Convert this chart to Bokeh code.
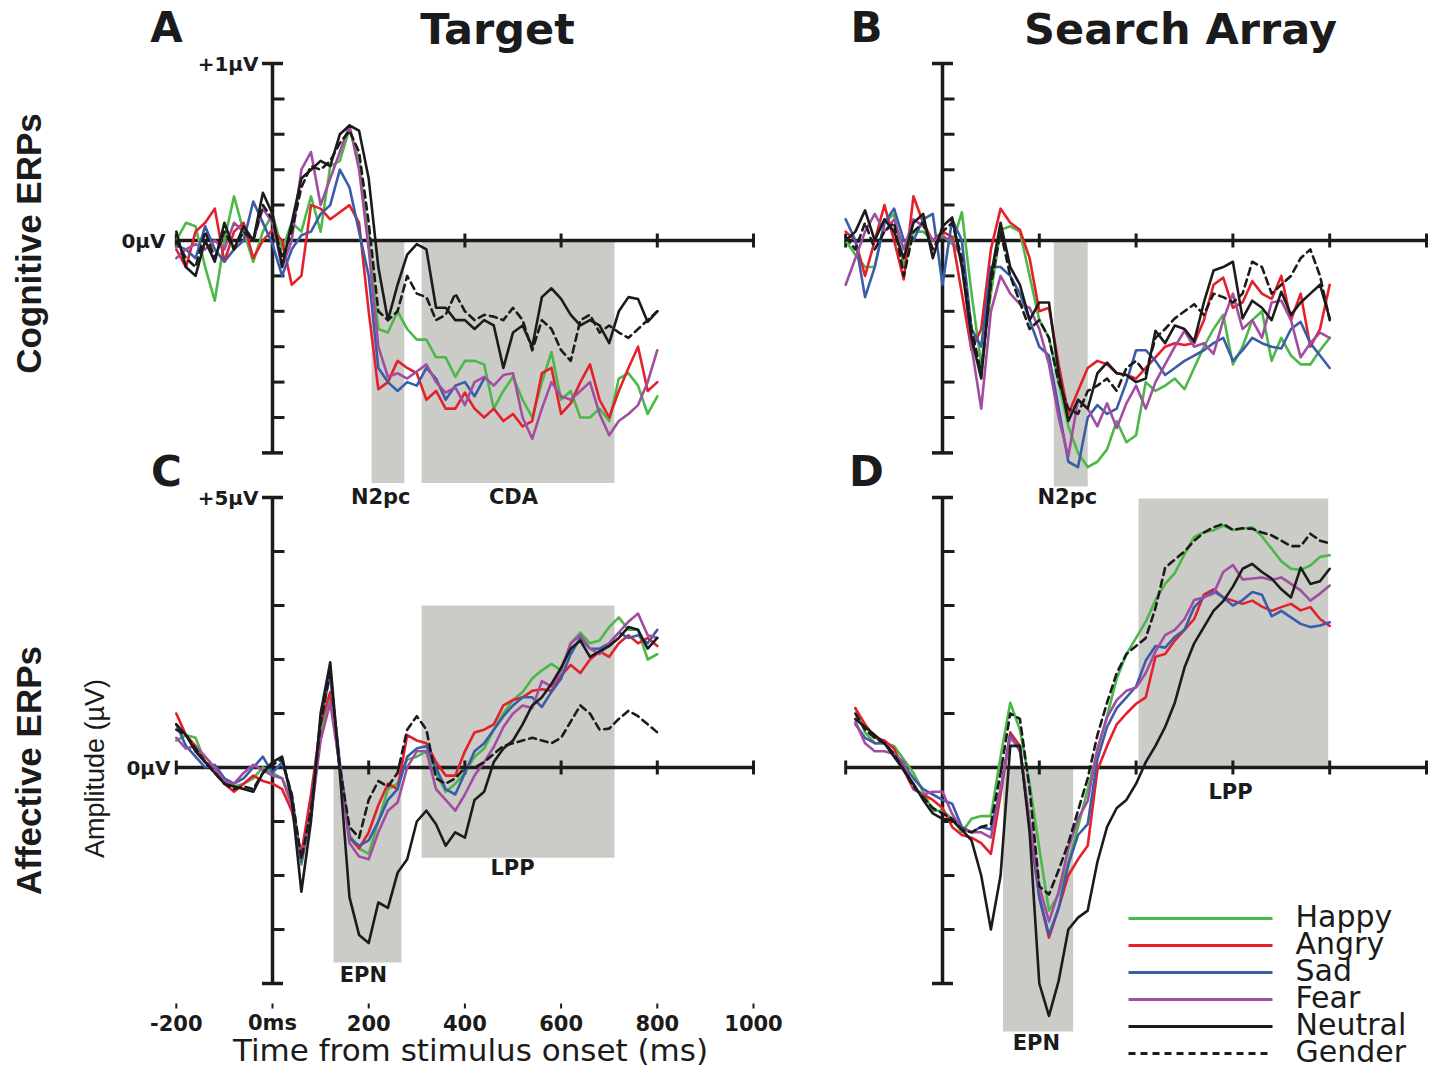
import numpy as np
from math import pi
from bokeh.plotting import figure
from bokeh.models import Range1d
from bokeh.core.properties import value
from bokeh.embed import file_html
from bokeh.resources import INLINE

nan = float("nan")

# shared time base of every waveform (ms)
time_ms = list(range(-200, 801, 20))

condition_names = ["Happy", "Angry", "Sad", "Fear", "Neutral", "Gender"]
condition_colors = ["#4cb848", "#e5202b", "#3b5ca8", "#a24ea0", "#1b1b1b", "#1b1b1b"]
condition_dashes = ["solid", "solid", "solid", "solid", "solid", "7 5"]

# ---- A: cognitive ERPs, target (µV) ----
a_happy = [0.0, 0.1, 0.08, -0.15, -0.34, 0.0, 0.25, 0.05, -0.12, 0.05,
           0.15, -0.05, 0.1, 0.05, 0.25, 0.05, 0.42, 0.45, 0.63, 0.45,
           0.0, -0.5, -0.52, -0.4, -0.5, -0.56, -0.56, -0.66, -0.66, -0.77,
           -0.68, -0.68, -0.7, -0.95, -0.85, -0.77, -0.9, -1.0, -0.8, -0.63,
           -0.9, -0.85, -1.0, -1.0, -0.95, -1.02, -0.78, -0.75, -0.82, -0.98,
           -0.88]
a_angry = [-0.05, -0.15, 0.05, 0.1, 0.18, -0.12, 0.05, 0.1, -0.1, 0.0,
           0.06, 0.0, -0.25, -0.2, 0.2, 0.18, 0.12, 0.16, 0.2, 0.1,
           -0.4, -0.84, -0.8, -0.68, -0.72, -0.75, -0.9, -0.85, -0.95, -0.95,
           -0.86, -0.95, -1.0, -0.95, -1.02, -0.98, -1.05, -1.02, -0.75, -0.72,
           -0.98, -0.92, -0.8, -0.7, -0.9, -1.0, -0.85, -0.72, -0.6, -0.85,
           -0.8]
a_sad = [-0.03, -0.05, -0.1, 0.08, -0.05, -0.12, -0.05, 0.0, 0.22, 0.1,
         -0.02, -0.2, -0.05, 0.03, 0.05, 0.15, 0.2, 0.4, 0.3, 0.05,
         -0.2, -0.72, -0.8, -0.85, -0.8, -0.82, -0.72, -0.78, -0.9, -0.82,
         -0.8, -0.88, -0.78, nan, nan, nan, nan, nan, nan, nan,
         nan, nan, nan, nan, nan, nan, nan, nan, nan, nan,
         nan]
a_fear = [-0.1, -0.05, -0.02, -0.05, 0.0, -0.05, 0.1, 0.05, 0.0, 0.18,
          0.1, -0.15, 0.0, 0.4, 0.5, 0.2, 0.35, 0.5, 0.65, 0.4,
          -0.05, -0.6, -0.77, -0.75, -0.78, -0.74, -0.7, -0.8, -0.86, -0.83,
          -0.93, -0.8, -0.77, -0.82, -0.76, -0.75, -1.0, -1.12, -0.95, -0.8,
          -0.88, -0.9, -0.85, -0.8, -0.98, -1.1, -1.02, -0.98, -0.93, -0.8,
          -0.62]
a_neutral = [0.05, -0.15, -0.2, 0.0, -0.12, 0.1, -0.05, 0.08, 0.0, 0.27,
             0.15, -0.15, 0.1, 0.35, 0.4, 0.45, 0.42, 0.6, 0.65, 0.62,
             0.35, -0.15, -0.45, -0.25, -0.08, -0.02, -0.05, -0.38, -0.38, -0.45,
             -0.45, -0.5, -0.45, -0.48, -0.72, -0.52, -0.48, -0.6, -0.32, -0.27,
             -0.33, -0.42, -0.48, -0.45, -0.48, -0.58, -0.4, -0.32, -0.33, -0.46,
             -0.4]
a_gender = [0.0, -0.1, -0.15, 0.05, -0.1, 0.05, -0.05, 0.05, 0.0, 0.2,
            0.12, -0.1, 0.05, 0.3, 0.42, 0.4, 0.45, 0.55, 0.62, 0.5,
            0.1, -0.4, -0.45, -0.4, -0.2, -0.3, -0.32, -0.45, -0.42, -0.3,
            -0.4, -0.45, -0.42, -0.43, -0.45, -0.38, -0.45, -0.62, -0.45, -0.5,
            -0.62, -0.68, -0.45, -0.42, -0.52, -0.48, -0.52, -0.55, -0.5, -0.45,
            -0.4]

# ---- B: cognitive ERPs, search array (µV) ----
b_happy = [0.0, -0.08, -0.15, -0.15, 0.1, 0.15, -0.15, 0.05, 0.05, 0.0,
           0.03, -0.02, 0.16, -0.3, -0.7, -0.3, 0.06, 0.08, 0.05, -0.2,
           -0.45, -0.55, -0.8, -1.05, -1.2, -1.28, -1.25, -1.18, -1.02, -1.14,
           -1.1, -0.8, -0.85, -0.82, -0.78, -0.84, -0.72, -0.6, -0.5, -0.42,
           -0.7, -0.6, -0.45, -0.4, -0.68, -0.55, -0.65, -0.7, -0.7, -0.62,
           -0.55]
b_angry = [0.05, 0.0, -0.2, 0.0, 0.2, 0.0, -0.22, 0.25, 0.1, 0.0,
           0.05, 0.02, -0.3, -0.62, -0.5, -0.05, 0.18, 0.1, 0.06, -0.1,
           -0.4, -0.38, -0.7, -0.98, -0.85, -0.72, -0.68, -0.7, -0.75, -0.76,
           -0.78, -0.72, -0.66, -0.6, -0.58, -0.59, -0.58, -0.45, -0.25, -0.21,
           -0.38, -0.35, -0.23, -0.3, -0.33, -0.2, -0.45, -0.3, -0.6, -0.5,
           -0.25]
b_sad = [0.12, 0.0, -0.32, -0.15, 0.1, 0.18, 0.0, 0.0, 0.12, 0.15,
         -0.25, 0.12, 0.0, -0.5, -0.6, -0.15, -0.15, -0.2, -0.3, -0.45,
         -0.6, -0.65, -0.95, -1.25, -1.28, -1.0, -0.93, -0.98, -0.95, -0.8,
         -0.62, -0.62, -0.68, -0.76, -0.72, -0.68, -0.65, -0.62, -0.58, -0.55,
         -0.68, -0.62, -0.55, -0.58, -0.6, -0.61, -0.5, -0.46, -0.58, -0.65,
         -0.72]
b_fear = [-0.25, -0.1, 0.05, 0.15, 0.05, 0.12, -0.05, 0.12, 0.08, 0.0,
          0.02, 0.0, -0.1, -0.6, -0.95, -0.4, -0.2, -0.3, -0.36, -0.38,
          -0.5, -0.7, -1.0, -1.22, -0.9, -0.95, -1.05, -0.92, -1.06, -0.92,
          -0.82, -0.95, -0.8, -0.7, -0.6, -0.51, -0.6, -0.58, -0.64, -0.45,
          -0.3, -0.5, -0.45, -0.55, -0.35, -0.34, -0.45, -0.66, -0.58, -0.52,
          -0.55]
b_neutral = [0.0, 0.05, 0.17, 0.0, 0.12, 0.05, -0.1, 0.1, 0.15, -0.1,
             0.08, 0.13, -0.15, -0.55, -0.78, -0.2, 0.1, -0.15, -0.25, -0.45,
             -0.35, -0.35, -0.75, -1.02, -0.9, -0.95, -0.75, -0.69, -0.75, -0.76,
             -0.8, -0.78, -0.51, -0.58, -0.48, -0.5, -0.57, -0.35, -0.17, -0.15,
             -0.12, -0.44, -0.34, -0.38, -0.45, -0.29, -0.42, -0.35, -0.3, -0.25,
             -0.44]
b_gender = [0.02, -0.05, 0.1, -0.05, 0.05, 0.1, -0.2, 0.05, 0.1, -0.05,
            0.05, 0.1, -0.1, -0.5, -0.75, -0.25, 0.05, -0.2, -0.35, -0.5,
            -0.45, -0.55, -0.8, -0.95, -0.98, -0.85, -0.82, -0.78, -0.85, -0.72,
            -0.68, -0.75, -0.55, -0.5, -0.44, -0.4, -0.36, -0.42, -0.3, -0.32,
            -0.35, -0.3, -0.12, -0.15, -0.3, -0.25, -0.2, -0.1, -0.05, -0.2,
            -0.45]

# ---- C: affective ERPs, target (µV) ----
c_happy = [0.5, 0.6, 0.55, 0.1, 0.0, -0.3, -0.35, -0.3, -0.2, 0.0,
           -0.1, -0.2, -0.6, -1.8, -0.9, 0.6, 1.35, 0.0, -1.25, -1.5,
           -1.6, -1.0, -0.4, -0.3, 0.15, 0.2, 0.3, -0.1, -0.45, -0.3,
           -0.1, 0.2, 0.35, 0.7, 1.0, 1.25, 1.4, 1.65, 1.8, 1.92,
           1.8, 2.3, 2.5, 2.3, 2.35, 2.6, 2.78, 2.55, 2.55, 2.0,
           2.1]
c_angry = [1.0, 0.6, 0.4, 0.1, 0.0, -0.3, -0.45, -0.3, -0.15, -0.25,
           -0.3, -0.4, -0.8, -1.6, -0.5, 0.8, 1.4, 0.0, -1.3, -1.5,
           -1.2, -0.7, -0.3, -0.4, 0.6, 0.5, 0.45, 0.1, -0.15, -0.15,
           0.3, 0.65, 0.7, 0.8, 1.15, 1.25, 1.3, 1.42, 1.45, 1.42,
           1.7, 1.9, 1.75, 2.0, 2.15, 2.05, 2.3, 2.45, 2.3, 2.4,
           2.25]
c_sad = [0.8, 0.4, 0.2, 0.0, 0.05, -0.2, -0.3, -0.2, 0.0, 0.2,
         -0.1, 0.1, -0.5, -1.75, -0.8, 0.9, 1.7, 0.1, -1.3, -1.45,
         -1.35, -1.0, -0.6, -0.4, 0.2, 0.35, 0.4, 0.0, -0.4, -0.5,
         -0.1, 0.3, 0.45, 0.7, 0.95, 1.15, 1.3, 1.3, 1.12, 1.4,
         1.65, 2.1, 2.4, 2.2, 2.2, 2.3, 2.5, 2.4, 2.45, 2.3,
         2.55]
c_fear = [0.55, 0.35, 0.4, 0.2, 0.0, -0.25, -0.3, -0.1, 0.05, -0.05,
          -0.15, -0.2, -0.7, -1.7, -0.9, 0.5, 1.2, 0.0, -1.4, -1.65,
          -1.7, -1.2, -0.8, -0.65, 0.0, 0.3, 0.3, -0.4, -0.6, -0.8,
          -0.5, -0.15, 0.1, 0.38, 0.75, 1.0, 1.15, 1.1, 1.6, 1.5,
          1.8, 2.3, 2.45, 2.2, 2.1, 2.3, 2.5, 2.7, 2.85, 2.45,
          2.4]
c_neutral = [0.8, 0.6, 0.3, 0.1, -0.1, -0.3, -0.35, -0.4, -0.45, -0.1,
             0.1, 0.2, -0.6, -2.3, -1.0, 1.0, 1.95, -0.1, -2.4, -3.1,
             -3.25, -2.5, -2.6, -1.95, -1.7, -1.0, -0.8, -1.05, -1.45, -1.2,
             -1.3, -0.6, -0.45, 0.1, 0.35, 0.5, 0.8, 1.15, 1.3, 1.55,
             1.85, 2.2, 2.35, 2.05, 2.15, 2.25, 2.4, 2.6, 2.55, 2.2,
             2.4]
c_gender = [0.7, 0.6, 0.35, 0.1, -0.1, -0.3, -0.4, -0.35, -0.4, -0.1,
            0.05, 0.15, -0.5, -1.7, -0.8, 0.8, 1.8, 0.0, -1.1, -1.3,
            -0.6, -0.25, -0.35, -0.1, 0.7, 0.95, 0.7, -0.2, -0.3, -0.2,
            0.0, 0.0, 0.1, 0.25, 0.4, 0.45, 0.5, 0.55, 0.5, 0.45,
            0.55, 0.85, 1.15, 1.0, 0.7, 0.72, 0.9, 1.05, 0.95, 0.8,
            0.65]

# ---- D: affective ERPs, search array (µV) ----
d_happy = [nan, 1.1, 0.65, 0.45, 0.45, 0.4, 0.15, -0.1, -0.45, -0.8,
           -0.8, -0.95, -1.2, -0.95, -0.9, -0.9, 0.2, 1.2, 0.7, -0.3,
           -1.5, -2.65, -2.35, -1.75, -1.1, -0.4, 0.3, 0.95, 1.65, 2.1,
           2.4, 2.7, 3.1, 3.4, 3.6, 3.95, 4.27, 4.36, 4.39, 4.48,
           4.4, 4.42, 4.45, 4.28, 4.05, 3.82, 3.68, 3.66, 3.74, 3.9,
           3.93]
d_angry = [nan, 1.1, 0.8, 0.55, 0.5, 0.35, -0.05, -0.4, -0.5, -0.6,
           -0.75, -1.1, -1.25, -1.3, -1.4, -1.6, -0.5, 0.65, 0.4, -1.1,
           -2.4, -3.15, -2.6, -2.0, -1.7, -1.45, -0.05, 0.4, 0.8, 1.0,
           1.18, 1.3, 2.05, 2.1, 2.35, 2.55, 2.75, 3.2, 3.3, 3.15,
           3.09, 3.03, 3.09, 2.98, 2.9, 2.97, 3.03, 2.91, 2.97, 2.75,
           2.62]
d_sad = [nan, 0.8, 0.55, 0.45, 0.45, 0.25, 0.05, -0.2, -0.4, -0.5,
         -0.6, -0.67, -1.1, -1.2, -1.1, -1.15, -0.4, 0.6, 0.3, -1.0,
         -2.4, -3.1, -2.6, -1.8, -1.25, -1.05, 0.15, 0.75, 1.1, 1.3,
         1.5, 1.98, 2.25, 2.22, 2.42, 2.55, 2.97, 3.15, 3.27, 3.15,
         3.0, 3.1, 3.25, 3.2, 2.8, 2.9, 2.78, 2.66, 2.6, 2.63,
         2.69]
d_fear = [nan, 0.85, 0.45, 0.3, 0.3, 0.25, 0.1, -0.4, -0.5, -0.45,
          -0.45, -0.86, -1.15, -1.2, -1.2, -1.3, -0.4, 0.55, 0.35, -1.0,
          -2.2, -2.85, -2.3, -1.5, -0.95, -0.62, 0.35, 0.93, 1.25, 1.42,
          1.48, 1.75, 2.15, 2.45, 2.55, 2.75, 3.1, 3.15, 3.22, 3.62,
          3.75, 3.48, 3.5, 3.52, 3.47, 3.52, 3.4, 3.28, 3.09, 3.22,
          3.37]
d_neutral = [nan, 0.9, 0.75, 0.6, 0.45, 0.2, -0.05, -0.3, -0.6, -0.85,
             -0.95, -0.98, -1.15, -1.35, -2.0, -3.0, -2.0, 0.4, 0.4, -1.2,
             -4.0, -4.6, -3.95, -3.0, -2.78, -2.65, -1.75, -1.1, -0.75, -0.6,
             -0.3, 0.1, 0.4, 0.75, 1.2, 1.85, 2.3, 2.6, 2.9, 3.08,
             3.35, 3.68, 3.77, 3.62, 3.5, 3.3, 3.15, 3.7, 3.4, 3.45,
             3.68]
d_gender = [nan, 1.0, 0.7, 0.55, 0.45, 0.25, -0.05, -0.35, -0.55, -0.75,
            -0.85, -0.95, -1.15, -1.2, -1.1, -1.05, -0.1, 1.0, 0.9, -0.4,
            -2.2, -2.35, -1.9, -1.4, -0.8, -0.2, 0.6, 1.2, 1.75, 2.1,
            2.25, 2.4, 2.95, 3.7, 3.85, 4.0, 4.2, 4.35, 4.45, 4.51,
            4.4, 4.43, 4.42, 4.35, 4.3, 4.2, 4.1, 4.1, 4.33, 4.2,
            4.15]

# analysis windows: (label, start ms, end ms, low µV, high µV)
windows_a = [("N2pc", 206, 274, -1.37, 0.0), ("CDA", 310, 711, -1.37, 0.0)]
windows_b = [("N2pc", 230, 300, -1.39, 0.0)]
windows_c = [("EPN", 127, 268, -3.61, 0.0), ("LPP", 310, 711, -1.67, 3.0)]
windows_d = [("EPN", 125, 270, -4.89, 0.0), ("LPP", 405, 797, 0.0, 4.98)]

# window labels: (text, ms, µV)
labels_a = [("N2pc", 225, -1.45), ("CDA", 501, -1.45)]
labels_b = [("N2pc", 258, -1.45)]
labels_c = [("EPN", 189, -3.85), ("LPP", 499, -1.87)]
labels_d = [("EPN", 194, -5.11), ("LPP", 595, -0.46)]

xtick_ms = [-200, 200, 400, 600, 800, 1000]
ytick_top = [-1.2, -1.0, -0.8, -0.6, -0.4, -0.2, 0.0, 0.2, 0.4, 0.6, 0.8, 1.0]
ytick_bottom = [-4, -3, -2, -1, 0, 1, 2, 3, 4, 5]
time_labels = ["-200", "0ms", "200", "400", "600", "800", "1000"]
time_label_ms = [-200, 0, 200, 400, 600, 800, 1000]

# ---------------- canvas ----------------
W, H = 1443, 1071
BLACK = "#1b1b1b"
SHADE = "#cbccc8"
BOLD = value("DejaVu Sans")


def top(y):
    """Convert a distance from the top edge into canvas y."""
    return H - y


p = figure(width=W, height=H, x_range=Range1d(0, W), y_range=Range1d(0, H),
           x_axis_location=None, y_axis_location=None, toolbar_location=None,
           min_border=0, outline_line_color=None, output_backend="svg",
           background_fill_color="white", border_fill_color="white")
p.grid.visible = False

# column time scales and row amplitude scales
COLS = {"left": (272.0, 0.481), "right": (942.0, 0.484)}
ROWS = {"top": (240.0, 177.0), "bottom": (767.0, 54.0)}
p.extra_x_ranges = {k: Range1d(-o / s, (W - o) / s) for k, (o, s) in COLS.items()}
p.extra_y_ranges = {k: Range1d((z - H) / s, z / s) for k, (z, s) in ROWS.items()}

panels = [
    ("left", "top", [a_happy, a_angry, a_sad, a_fear, a_neutral, a_gender], windows_a, labels_a, ytick_top),
    ("right", "top", [b_happy, b_angry, b_sad, b_fear, b_neutral, b_gender], windows_b, labels_b, ytick_top),
    ("left", "bottom", [c_happy, c_angry, c_sad, c_fear, c_neutral, c_gender], windows_c, labels_c, ytick_bottom),
    ("right", "bottom", [d_happy, d_angry, d_sad, d_fear, d_neutral, d_gender], windows_d, labels_d, ytick_bottom),
]

for col, row, series, windows, wlabels, yticks in panels:
    kw = dict(x_range_name=col, y_range_name=row)
    px_ms = COLS[col][1]
    px_uv = ROWS[row][1]

    # shaded analysis windows
    p.quad(left=[w[1] for w in windows], right=[w[2] for w in windows],
           bottom=[w[3] for w in windows], top=[w[4] for w in windows],
           fill_color=SHADE, line_color=None, **kw)

    # x axis along 0 µV
    p.segment(x0=[-200], y0=[0], x1=[1000], y1=[0], line_color=BLACK, line_width=3.5, **kw)
    dv = 7.0 / px_uv
    p.segment(x0=xtick_ms, y0=[-dv] * len(xtick_ms), x1=xtick_ms, y1=[dv] * len(xtick_ms),
              line_color=BLACK, line_width=3, **kw)

    # y axis at stimulus onset
    vmin, vmax = min(yticks), max(yticks)
    p.segment(x0=[0], y0=[vmin], x1=[0], y1=[vmax], line_color=BLACK, line_width=3.5, **kw)
    inner = [v for v in yticks if v not in (vmin, vmax)]
    dt = 12.0 / px_ms
    p.segment(x0=[0] * len(inner), y0=inner, x1=[dt] * len(inner), y1=inner,
              line_color=BLACK, line_width=3, **kw)
    dte = 10.5 / px_ms
    p.segment(x0=[-dte, -dte], y0=[vmin, vmax], x1=[dte, dte], y1=[vmin, vmax],
              line_color=BLACK, line_width=3.5, **kw)

    # waveforms
    for vals, color, dash in zip(series, condition_colors, condition_dashes):
        p.line(time_ms, np.array(vals, dtype=float), line_color=color, line_width=2.6,
               line_dash=dash, line_join="round", line_cap="round", **kw)

    # window labels
    p.text(x=[l[1] for l in wlabels], y=[l[2] for l in wlabels], text=[l[0] for l in wlabels],
           text_font=BOLD, text_font_style="bold", text_font_size="21px", text_color=BLACK,
           text_align="center", text_baseline="middle", **kw)

# amplitude labels on the left column axes
p.text(x=[0, 0], y=[1.0, 0.0], text=["+1µV", "0µV"], x_offset=[-14, -107],
       text_font=BOLD, text_font_style="bold", text_font_size="20px", text_color=BLACK,
       text_align="right", text_baseline="middle", x_range_name="left", y_range_name="top")
p.text(x=[0, 0], y=[5.0, 0.0], text=["+5µV", "0µV"], x_offset=[-14, -102],
       text_font=BOLD, text_font_style="bold", text_font_size="20px", text_color=BLACK,
       text_align="right", text_baseline="middle", x_range_name="left", y_range_name="bottom")

# time scale under the lower-left panel
v_lab = (ROWS["bottom"][0] - 1022) / ROWS["bottom"][1]
v_tick0 = (ROWS["bottom"][0] - 1003) / ROWS["bottom"][1]
v_tick1 = (ROWS["bottom"][0] - 1008) / ROWS["bottom"][1]
p.segment(x0=time_label_ms, y0=[v_tick0] * 7, x1=time_label_ms, y1=[v_tick1] * 7,
          line_color=BLACK, line_width=2, x_range_name="left", y_range_name="bottom")
p.text(x=time_label_ms, y=[v_lab] * 7, text=time_labels,
       text_font=BOLD, text_font_style="bold", text_font_size="21px", text_color=BLACK,
       text_align="center", text_baseline="middle", x_range_name="left", y_range_name="bottom")
p.text(x=[470], y=[top(1049)], text=["Time from stimulus onset (ms)"],
       text_font=value("DejaVu Sans"), text_font_size="31px", text_color=BLACK,
       text_align="center", text_baseline="middle")

# panel letters and column titles
p.text(x=[166, 866, 166, 866], y=[top(27), top(27), top(471), top(471)], text=["A", "B", "C", "D"],
       text_font=BOLD, text_font_style="bold", text_font_size="42px", text_color=BLACK,
       text_align="center", text_baseline="middle")
p.text(x=[497, 1180], y=[top(28), top(28)], text=["Target", "Search Array"],
       text_font=BOLD, text_font_style="bold", text_font_size="43px", text_color=BLACK,
       text_align="center", text_baseline="middle")

# row titles
p.text(x=[28, 28], y=[top(243), top(770)], text=["Cognitive ERPs", "Affective ERPs"], angle=pi / 2,
       text_font=value("Liberation Sans"), text_font_style="bold", text_font_size="35px",
       text_color=BLACK, text_align="center", text_baseline="middle")
p.text(x=[94], y=[top(768)], text=["Amplitude (µV)"], angle=pi / 2,
       text_font=value("Liberation Sans"), text_font_size="27px",
       text_color=BLACK, text_align="center", text_baseline="middle")

# legend
leg_y = [top(918 + 27 * i) for i in range(len(condition_names))]
for yy, name, color, dash in zip(leg_y, condition_names, condition_colors, condition_dashes):
    p.line([1128, 1272], [yy, yy], line_color=color, line_width=2.8, line_dash=dash)
p.text(x=[1295] * len(condition_names), y=[y + 2 for y in leg_y], text=condition_names,
       text_font=value("DejaVu Sans"), text_font_size="30px", text_color=BLACK,
       text_align="left", text_baseline="middle")

open("out.html", "w").write(file_html(p, INLINE))
